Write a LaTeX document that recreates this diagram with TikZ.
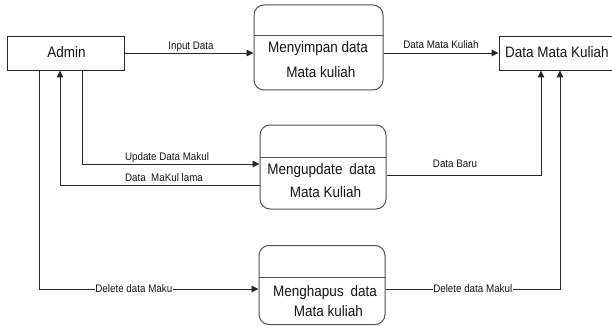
\documentclass[tikz,border=0pt]{standalone}
\usepackage{fontspec}
\setmainfont{Liberation Sans}
\usetikzlibrary{arrows.meta}
\newcommand{\vstr}[1]{\scalebox{1}[1.12]{#1}}
\definecolor{ln}{HTML}{262626}
\definecolor{pb}{HTML}{505050}
\definecolor{tx}{HTML}{141414}
\begin{document}
\begin{tikzpicture}[x=1pt,y=-1pt,
  ent/.style={draw=ln, line width=0.9pt, rectangle, inner sep=0pt},
  proc/.style={draw=pb, line width=1pt, rectangle, rounded corners=10pt, inner sep=0pt},
  divider/.style={draw=pb, line width=1pt},
  ptext/.style={anchor=base, inner sep=0pt, text=tx, font=\fontsize{13.5}{16}\selectfont},
  lbl/.style={inner sep=0.6pt, text=tx, font=\fontsize{9.8}{11}\selectfont},
  flow/.style={draw=ln, line width=0.9pt},
  arr/.style={flow, -{Triangle[length=7pt,width=6.5pt]}}
]
\useasboundingbox (0,0) rectangle (612,326);
\clip (-1,-1) rectangle (612,327);

% external entities
\node[ent, minimum width=117pt, minimum height=34pt] (admin) at (65.5,53) {};
\node[ptext] (admintxt) at (66.5,57.5) {\vstr{Admin}};
\node[ent, minimum width=124pt, minimum height=34pt] (dmk) at (561,53) {};
\node[ptext, anchor=base west] (dmktxt) at (505,58) {\vstr{Data Mata Kuliah}};

% processes
\node[proc, minimum width=129pt, minimum height=85pt] (p1) at (318.5,47.5) {};
\coordinate (d1) at (0,36);
\draw[divider] (p1.west |- d1) -- (p1.east |- d1);
\node[ptext] (p1a) at (318,53) {\vstr{Menyimpan data}};
\node[ptext] (p1b) at (321,78) {\vstr{Mata kuliah}};

\node[proc, minimum width=126pt, minimum height=84pt] (p2) at (323,167) {};
\coordinate (d2) at (0,157);
\draw[divider] (p2.west |- d2) -- (p2.east |- d2);
\node[ptext] (p2a) at (321.5,174) {\vstr{Mengupdate\hspace{3pt} data}};
\node[ptext] (p2b) at (325.5,197) {\vstr{Mata Kuliah}};

\node[proc, minimum width=126pt, minimum height=79pt] (p3) at (322,285) {};
\coordinate (d3) at (0,277.5);
\draw[divider] (p3.west |- d3) -- (p3.east |- d3);
\node[ptext] (p3a) at (325,296) {\vstr{Menghapus\hspace{3pt} data}};
\node[ptext] (p3b) at (328.3,316.5) {\vstr{Mata kuliah}};

% attachment points
\coordinate (aD) at ([xshift=-26.5pt]admin.south);
\coordinate (aL) at ([xshift=-5.5pt]admin.south);
\coordinate (aU) at ([xshift=16.5pt]admin.south);
\coordinate (dB) at ([xshift=-20pt]dmk.south);
\coordinate (dD) at ([xshift=-1pt]dmk.south);
\coordinate (yU) at (0,164);
\coordinate (yL) at (0,185);
\coordinate (yB) at (0,175.5);
\coordinate (yD) at (0,289);

% flows
\draw[arr] (admin.east) -- (admin.east -| p1.west);
\node[lbl, anchor=base] (lin) at (191,50) {\vstr{Input Data}};

\draw[arr] (dmk.west -| p1.east) -- (dmk.west);
\node[lbl, anchor=base] (ldmk) at (441,49) {\vstr{Data Mata Kuliah}};

\draw[arr] (aU) |- (p2.west |- yU);
\node[lbl, anchor=base] (lupd) at (167,160) {\vstr{Update Data Makul}};

\draw[arr] (p2.west |- yL) -| (aL);
\node[lbl, anchor=base] (llama) at (164,181.3) {\vstr{Data\ \ MaKul lama}};

\draw[arr] (p2.east |- yB) -| (dB);
\node[lbl, anchor=base] (lbaru) at (455,167.5) {\vstr{Data Baru}};

\draw[arr] (aD) |- (p3.west |- yD)
  node[lbl, fill=white, pos=0.716] (ldel) {\vstr{Delete data Maku}};

\draw[arr] (p3.east |- yD) -| (dD)
  node[lbl, fill=white, pos=0.25] (ldel2) {\vstr{Delete data Makul}};
\end{tikzpicture}
\end{document}
